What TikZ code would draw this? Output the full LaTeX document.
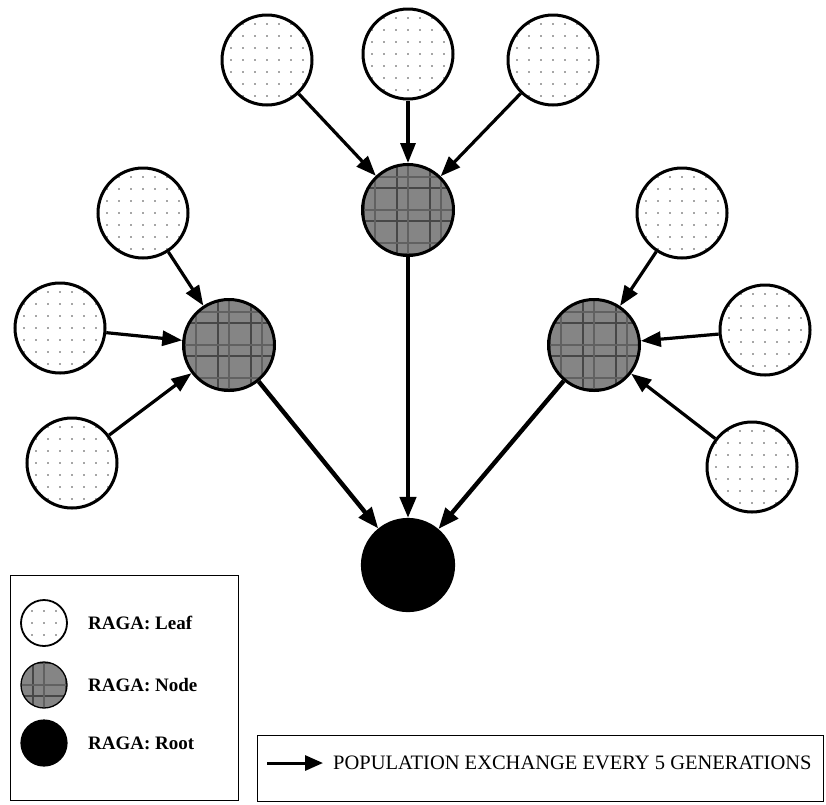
\documentclass[tikz,border=0pt]{standalone}
\usepackage{fontspec}
\setmainfont{Liberation Serif}
\usetikzlibrary{arrows.meta}
\begin{document}
\begin{tikzpicture}[x=1pt,y=-1pt,
  dotfill/.style={path picture={
    \foreach \i in {-5,...,5}{\foreach \j in {-5,...,5}{
      \fill[black!70,shift={(path picture bounding box.center)}] (\i*12pt,\j*12pt) circle (0.9pt);}}}},
  plaidfill/.style={fill=black!48, path picture={
    \begin{scope}[shift={(path picture bounding box.center)}]
    \foreach \k in {-44,-11,22}{
      \draw[black!72,line width=2.2pt] (\k pt,-60pt) -- (\k pt,60pt);
      \draw[black!72,line width=2.2pt] (-60pt,\k pt) -- (60pt,\k pt);}
    \foreach \k in {-33,0,33}{
      \draw[black!62,line width=1.4pt] (\k pt,-60pt) -- (\k pt,60pt);
      \draw[black!62,line width=1.4pt] (-60pt,\k pt) -- (60pt,\k pt);}
    \end{scope}}},
  leaf/.style={circle, draw, line width=3pt, minimum size=90pt, inner sep=0pt, fill=white, dotfill},
  inner/.style={circle, draw, line width=3pt, minimum size=91pt, inner sep=0pt, plaidfill},
  root/.style={circle, draw, line width=2.2pt, minimum size=92pt, inner sep=0pt, fill=black},
  arr/.style={line width=3.2pt, -{Triangle[length=20pt,width=15pt]}},
  rootarr/.style={line width=4.4pt, -{Triangle[length=21pt,width=16pt]}},
  legtext/.style={font=\fontsize{19}{22}\selectfont\bfseries, anchor=west, inner sep=0pt},
  frame/.style={draw, line width=1.4pt}
]
\useasboundingbox (0,0) rectangle (826,804);

% tree nodes
\node[root] (root) at (408,565) {};
\node[inner] (nt) at (408,210) {};
\node[inner] (nl) at (229,345) {};
\node[inner] (nr) at (594,345) {};

% leaves of the top node
\node[leaf] (t1) at (267,60) {};
\node[leaf] (t2) at (408,54) {};
\node[leaf] (t3) at (553,60) {};
% leaves of the left node
\node[leaf] (l1) at (143,213) {};
\node[leaf] (l2) at (60,328) {};
\node[leaf] (l3) at (72,463) {};
% leaves of the right node
\node[leaf] (r1) at (682,213) {};
\node[leaf] (r2) at (765,330) {};
\node[leaf] (r3) at (752,467) {};

% population exchange
\foreach \a/\b in {t1/nt,t2/nt,t3/nt,l1/nl,l2/nl,l3/nl,r1/nr,r2/nr,r3/nr}
  \draw[arr] (\a) -- (\b);
\foreach \a in {nl,nt,nr}
  \draw[rootarr] (\a) -- (root);

% legend of node kinds
\node[frame, minimum width=228pt, minimum height=225pt, anchor=north west] (legbox) at (10,575) {};
\node[leaf, minimum size=46pt, line width=1.8pt] (kleaf) at (44,623) {};
\node[inner, minimum size=46pt, line width=1.3pt] (knode) at (44,685) {};
\node[root, minimum size=46pt, line width=1.2pt] (kroot) at (44,743) {};
\node[legtext] (tleaf) at (88,623) {RAGA: Leaf};
\node[legtext] (tnode) at (88,685) {RAGA: Node};
\node[legtext] (troot) at (88,743) {RAGA: Root};

% legend of the connector
\node[frame, minimum width=566pt, minimum height=66pt, anchor=north west] (arrbox) at (257,735) {};
\coordinate (a0) at (267,763);
\coordinate (a1) at (323,763);
\draw[line width=3pt, -{Triangle[length=18pt,width=15pt]}] (a0) -- (a1);
\node[font=\fontsize{20.5}{24}\selectfont, anchor=west, inner sep=0pt] (tarr) at (333,763) {POPULATION EXCHANGE EVERY 5 GENERATIONS};
\end{tikzpicture}
\end{document}
